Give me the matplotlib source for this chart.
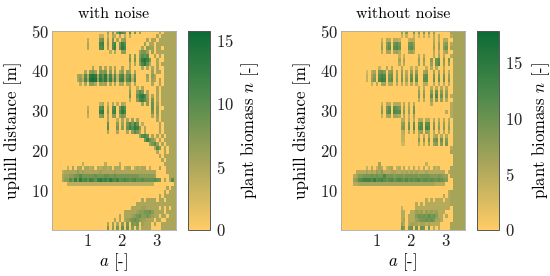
import matplotlib
matplotlib.use('Agg')
import numpy as np
import matplotlib.pyplot as plt
from matplotlib.colors import LinearSegmentedColormap

plt.rcParams['font.family'] = ['cmr10', 'DejaVu Serif']
plt.rcParams['mathtext.fontset'] = 'cm'
plt.rcParams['axes.unicode_minus'] = False
plt.rcParams['axes.formatter.use_mathtext'] = True

# biomass, one string per metre from y=50 down to y=0,
# one character per column of a (base 36, '.' means 0)
with_noise = [
    ".......... .......... ..6.7.8ca8 .a.8.6.... ...5.55555",
    ".......... .........4 4.4.54.5.4 .4........ ..5.555555",
    ".......... ....4....8 9.6.8.5.67 ........5. 55.5555555",
    ".......... ....5....b c.7.ab.8ca .......6.5 5.55555555",
    ".......... ....5....a b.6.ac.9db ......5.76 6.55.55555",
    ".......... .......... ...4.5..77 .....6886. 6.55555555",
    ".......... .......... .......... .7.7.7a9a. .5.5.55555",
    ".......... .......... .......... .8.8.8dec8 ..5..55555",
    ".......... .......... .......... .5.5.7bd95 ..5.555555",
    ".......... ......5..6 .5.5.5..5. .5....5.5. 5.5..55555",
    ".......... ...5.786.8 78.7.7.57. 76.5...... 6.55.55555",
    ".......... 563a4ded5c 9d5b4a3ab4 9b39....6. 75...55555",
    ".......... 574b5efe6d ad6c5b3bc4 ac4a....5. 65.5.55555",
    ".......... .4.5.775.6 56.5.5.55. 55.5...... 5..5.55555",
    ".......... .......... .......... .5..4.5... ..5.555555",
    ".......... .......... .......... .7..7a8.5. ..5.555555",
    ".......... .......... .......... .8..9cdb6. 5.5.555555",
    ".......... .......... .......... .4..7bca7. 8.5.555555",
    ".......... .........4 5.4.5.4.54 ......6.7. 9.6.555555",
    ".......... ....4....a b.6.ab.8ca .......... 9.7..55555",
    ".......... ....5....c d.7.bc.9db .......... 8.7.555555",
    ".......... ....4....7 8.5.77.687 .......... 5.6.555555",
    ".......... .......... ..5...4.5. 5.6.5..... ..5.555555",
    ".......... .......... ..9...7.6. 8b8c9.4... ...5.55555",
    ".......... .......... ..a...8.7. 9cadc7.5.. ...5.55555",
    ".......... .......... ..5...5... 5.7a85.5.. ...5.55555",
    ".......... .......... .......... .....6ab9. 5.5.5.5555",
    ".......... .......... .......... .......8c9 75.5.55555",
    ".......... .......... .......... .........6 8a6.5.5555",
    ".......... .......... .......... .......... .5a7.5.555",
    ".......... .......... .......... .......... ..5..5.555",
    ".......... .......... .......... .......... ...5.55555",
    ".......... .......... .......... .......... ....5.5555",
    ".......... ..4....... .4.....4.. .......... .....55555",
    "......4.5. 55.5545.54 5545.555.4 55.45455.4 ...5..5555",
    "....455555 7565555556 5555565555 5555555555 55....5555",
    "....566778 8a88888988 8998898888 8888877777 76.....555",
    "....577a8c 8dab9cb9cd bcadbac9ab a9ab99a999 9a98.5.5a5",
    "......4444 4444444444 4444444444 4444444444 4........5",
    ".......... .......... .......... .......... ......5.55",
    ".......... .......... .......... .......... .....5.555",
    ".......... .......... .......... .......... ...5.55555",
    ".......... .......... .......... ......5.55 55.55.5555",
    ".......... .......... .......... ....555555 5555555555",
    ".......... .......... .......... ..55556655 555.5.5.55",
    ".......... .......... .........5 5555677889 75555.5555",
    ".......... .......... .......5.5 5567897787 655.55.555",
    ".......... .......... .....5.5.5 6789876655 5.55..5555",
    ".......... .......... ..5.6.5.7. 8.878.6555 .5..555555",
    ".......... .......... ..8.7.8.9. 9.7.7.5555 ....555555",
]

without_noise = [
    ".......... .......... ....7.8..9 .8.9.8.7.. ....666666",
    ".......... .......... ....4.4..4 .4.4.4.5.5 ....566666",
    ".......... ......4.55 .554...455 .......5.5 .55..66666",
    ".......... ......6.8a .ab9...9a7 .......6.7 .78.566666",
    ".......... ......7.9b .bca...ab8 .......7.7 .8a.666666",
    ".......... ......5.66 .675...675 .......5.5 .56..66666",
    ".......... .......... ...4.4.... .5.5...5.6 .5..566666",
    ".......... .......... ...6.6.... .7.7..8.ab .8.9.66666",
    ".......... .......... ...5.5.... .6.6..7.ac .7.7.66666",
    ".......... .....4..5. 5...5...4. 4...4.5.5. .5...66666",
    ".......... 3.56.9a8.7 8.6.7.5.7. 7..67..6.6 .6.5.66666",
    ".......... 4.68.bdc.9 a.7.8.6.a. a..ab..9.9 .9.7.66666",
    ".......... 4.79.ced.a b.8.9.7.b. b..bb..a.a .a.8.66666",
    ".......... ..4.5.66.5 5.5.5.4.5. 5..55..5.5 .5.5.66666",
    ".......... .......... .......... .5.5..5.5. 5.5..66666",
    ".......... .......... .......... .7.7..8.a. 8.7..66666",
    ".......... .......... .......... .8.8..b.c. a.8.566666",
    ".......... .......... .......... .5.5..7.8. 7.5..66666",
    ".......... ......4.55 .555.5.5.5 ......5... ....566666",
    ".......... ......7.9b .ba9.7.6.9 .......... ....566666",
    ".......... ......8.ac .cbb.8.7.a .......... ..5.566666",
    ".......... ......4.66 .665.5.4.6 .......... ....566666",
    ".......... .......... ....55.5.5 .55.55.5.5 .5.5.66666",
    ".......... .......... ....78.9.a .ab.bb.8.7 .7.6.66666",
    ".......... .......... ....89.a.b .bc.dc.9.8 .8.7.66666",
    ".......... .......... ....45.5.6 .67.76.5.5 .5.5.66666",
    ".......... .......... ....44.... .5.5.6.56. 5.5..66666",
    ".......... .......... ....44.... .8.8.9.9a. a.8..66666",
    ".......... .......... ....33.... .5.5.6.78. 8.9..66666",
    ".......... .......... .......... .......... ....566666",
    ".......... .......... .......... .......... ....666666",
    ".......... .......... .......... .......... .....66666",
    ".......... .......... .......... .......... .....66666",
    ".......... .....6.... .......... ....4..... .....66666",
    ".......... 4.5.465.45 6.45.5.4.5 .4.5.4.545 ....666666",
    "......5555 6565768555 6655656565 6555655555 55.5666666",
    ".....56889 99a9a99c99 9899989999 9899998889 877.666666",
    ".....78bcd ddbebcdbab cabcbacaba bcabbabaab a98..66666",
    ".....55666 6666666666 6666666666 6666666655 55...66666",
    ".......... .......... .......... .......... .....66666",
    ".......... .......... .......... .......... ...5666666",
    ".......... .......... .......... .......... .5.5666666",
    ".......... .......... .......... ....5.5.55 5.55666666",
    ".......... .......... .......... 5.5.555555 5555666666",
    ".......... .......... ....4..... 5555555555 5555.66666",
    ".......... .......... ....55..55 7675767675 55...66666",
    ".......... .......... ....55.555 8a9a9b9a85 5.5..66666",
    ".......... .......... ....56.555 7899a9a966 5....66666",
    ".......... .......... ....75.566 6566565555 ....666666",
    ".......... .......... ....a8.9a. a.a9.9.5.5 ....666666",
]

a_ticks = [1, 2, 3]
y_ticks = [10, 20, 30, 40, 50]
cbar_ticks_left = [0, 5, 10, 15]
cbar_ticks_right = [0, 5, 10, 15]
a_max = 3.54
vmax_left = 15.75
vmax_right = 17.8

cmap = LinearSegmentedColormap.from_list(
    'biomass', ['#ffcc66', '#a8a55a', '#4f8a4c', '#0b6b35'])

W, H = 550, 276


def decode(rows):
    out = []
    for row in rows:
        row = row.replace(' ', '').replace('.', '0')
        assert len(row) == 50, row
        out.append([int(ch, 36) for ch in row])
    return np.array(out, dtype=float)


def px_axes(fig, x0, x1, y0, y1):
    return fig.add_axes([x0 / W, 1 - y1 / H, (x1 - x0) / W, (y1 - y0) / H])


def panel(fig, rows, x0, vmax, title, cticks, ylabel_x, clabel_x):
    ax = px_axes(fig, x0, x0 + 124, 30.7, 230)
    im = ax.imshow(decode(rows), extent=[0, a_max, 0.2, 50], origin='upper', aspect='auto',
                   cmap=cmap, vmin=0, vmax=vmax, interpolation='nearest')
    ax.set_xticks(a_ticks)
    ax.set_yticks(y_ticks)
    ax.tick_params(length=0, labelsize=12, pad=2, colors='#222222')
    for s in ax.spines.values():
        s.set_color('#aaaaaa')
        s.set_linewidth(0.6)
    ax.set_xlabel('$a$ [-]', fontsize=12, labelpad=2)
    ax.set_ylabel('uphill distance [m]', fontsize=12.2)
    ax.yaxis.set_label_coords(ylabel_x, 0.5)
    ax.set_title(title, fontsize=11.5, pad=9)

    cax = px_axes(fig, x0 + 136, x0 + 158, 30.7, 230)
    cb = fig.colorbar(im, cax=cax)
    cb.set_ticks(cticks)
    cb.ax.tick_params(length=0, labelsize=12, pad=4, colors='#222222')
    cb.outline.set_edgecolor('#555555')
    cb.outline.set_linewidth(0.7)
    cb.set_label('plant biomass $n$ [-]', fontsize=12)
    cb.ax.yaxis.set_label_coords(clabel_x, 0.5)


fig = plt.figure(figsize=(W / 100, H / 100), dpi=100)
panel(fig, with_noise, 52, vmax_left, 'with noise', cbar_ticks_left, -0.24, 2.35)
panel(fig, without_noise, 341, vmax_right, 'without noise', cbar_ticks_right, -0.24, 2.4)
fig.savefig('out.png', dpi=100)
